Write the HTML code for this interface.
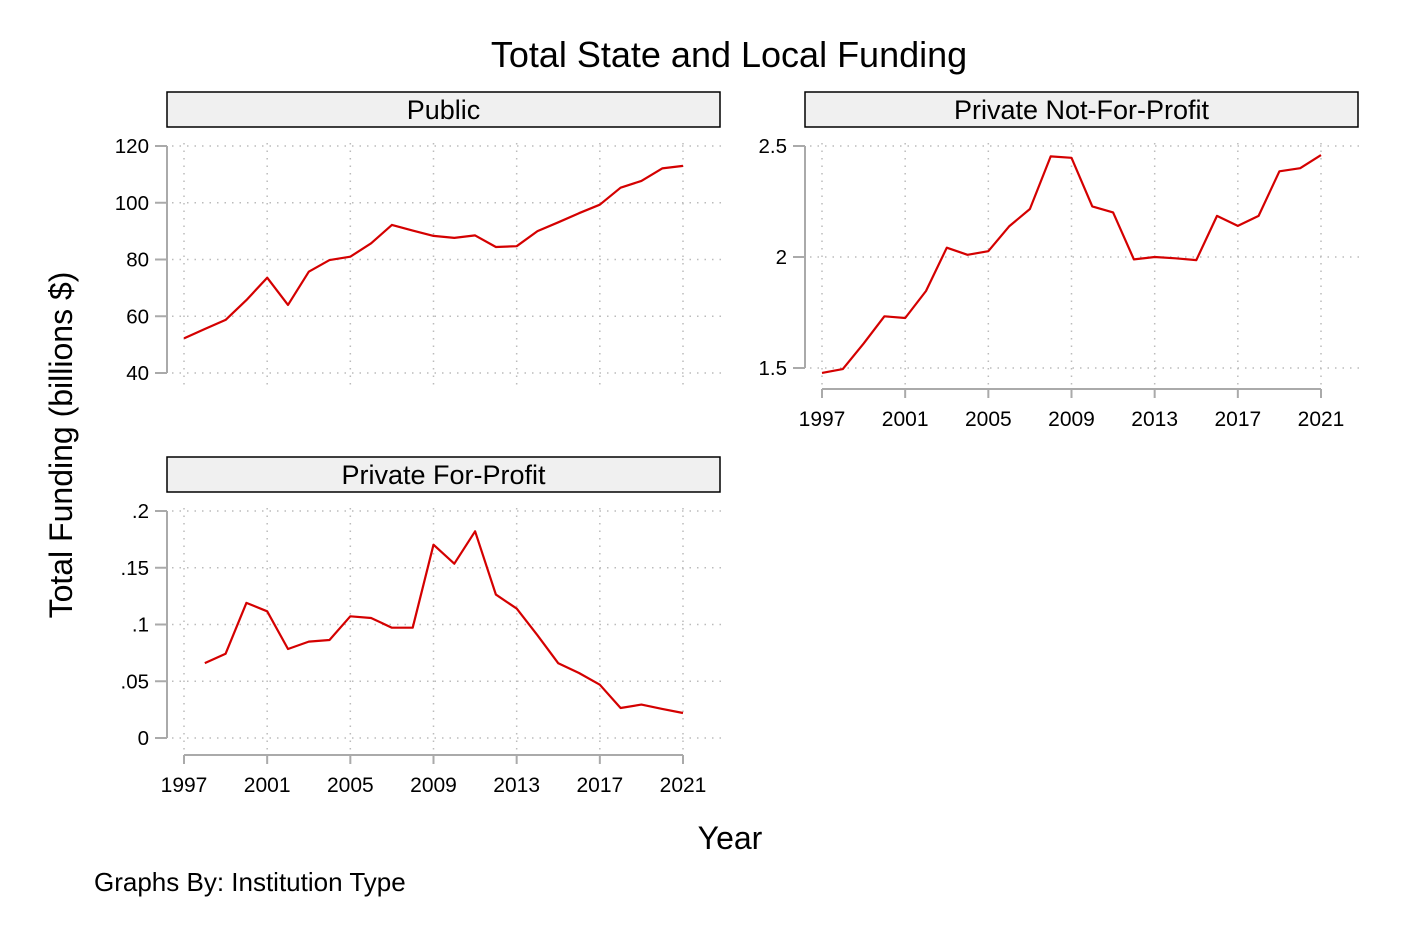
<!DOCTYPE html>
<html><head><meta charset="utf-8"><style>
body{margin:0;background:#fff;}
svg text{font-family:"Liberation Sans",Arial,sans-serif;fill:#000;}
</style></head><body>
<svg id="chart" width="1404" height="936" viewBox="0 0 1404 936" xmlns="http://www.w3.org/2000/svg">
<rect width="1404" height="936" fill="#fff"/>
<text x="729" y="67" font-size="36" text-anchor="middle">Total State and Local Funding</text>
<text transform="translate(72,445) rotate(-90)" font-size="32" text-anchor="middle">Total Funding (billions $)</text>
<text x="730" y="849" font-size="32" text-anchor="middle">Year</text>
<text x="94" y="891" font-size="26">Graphs By: Institution Type</text>
<g id="panels"></g>
</svg>
<script>
const years = [1997,1998,1999,2000,2001,2002,2003,2004,2005,2006,2007,2008,2009,2010,2011,2012,2013,2014,2015,2016,2017,2018,2019,2020,2021];
const publicValues = [52.2,55.5,58.7,65.7,73.6,64,75.7,79.8,81,85.7,92.2,90.2,88.3,87.6,88.5,84.4,84.7,90,93.1,96.3,99.3,105.3,107.7,112.1,113];
const nonprofitValues = [1.478,1.495,1.61,1.733,1.725,1.847,2.042,2.01,2.026,2.138,2.216,2.453,2.447,2.228,2.201,1.989,2.0,1.994,1.986,2.185,2.14,2.185,2.386,2.4,2.459];
const forprofitValues = [null,.066,.0743,.119,.1116,.0784,.0849,.0863,.1072,.1057,.0972,.0972,.1703,.1536,.1821,.1263,.114,.0905,.0658,.0573,.047,.0264,.0294,.0256,.022];
const xTicks = [1997,2001,2005,2009,2013,2017,2021];
const publicTicks = [40,60,80,100,120];
const publicTickLabels = ["40","60","80","100","120"];
const nonprofitTicks = [1.5,2,2.5];
const nonprofitTickLabels = ["1.5","2","2.5"];
const forprofitTicks = [0,.05,.1,.15,.2];
const forprofitTickLabels = ["0",".05",".1",".15",".2"];

const NS="http://www.w3.org/2000/svg";
const root=document.getElementById('panels');
function mk(tag,attrs,parent){const e=document.createElementNS(NS,tag);for(const k in attrs)e.setAttribute(k,attrs[k]);(parent||root).appendChild(e);return e;}

function panel(o){
  const g=mk('g',{});
  
  
  const xs=v=>o.x0+(v-1997)*(o.x1-o.x0)/24;
  const ys=v=>o.yTop+(o.tMax-v)*(o.yBot-o.yTop)/(o.tMax-o.tMin);
  const hr=mk('rect',{x:o.hx,y:o.hy,width:553,height:35,fill:'#f0f0f0',stroke:'#000','stroke-width':1.5},g);
  
  
  const ht=mk('text',{x:o.hx+276.5,y:o.hy+27,'font-size':27,'text-anchor':'middle'},g);
  ht.textContent=o.title;
  
  
  o.yt.forEach((t,i)=>{
    const y=ys(t);
    const gl=mk('line',{x1:o.yAxisX+5,x2:o.gridR,y1:y,y2:y,stroke:'#bbb','stroke-width':1.5,'stroke-dasharray':'1.5 6'},g);
    
    
    mk('line',{x1:o.yAxisX-12,x2:o.yAxisX,y1:y,y2:y,stroke:'#aaa','stroke-width':2},g);
    const tl=mk('text',{x:o.yAxisX-18,y:y+7,'font-size':20.5,'text-anchor':'end'},g);
    tl.textContent=o.ytl[i];
    
    
  });
  xTicks.forEach(t=>{
    const x=xs(t);
    const gl=mk('line',{x1:x,x2:x,y1:o.yTop-3,y2:o.gridB,stroke:'#bbb','stroke-width':1.5,'stroke-dasharray':'1.5 6'},g);
    
    
    if(o.xAxisY){
      mk('line',{x1:x,x2:x,y1:o.xAxisY,y2:o.xAxisY+9,stroke:'#aaa','stroke-width':2},g);
      const tl=mk('text',{x:x,y:o.xAxisY+37,'font-size':21,'text-anchor':'middle'},g);
      tl.textContent=String(t);
      
      
    }
  });
  const ya=mk('line',{x1:o.yAxisX,x2:o.yAxisX,y1:ys(o.tMax),y2:ys(o.tMin),stroke:'#aaa','stroke-width':2},g);
  
  
  if(o.xAxisY){
    const xa=mk('line',{x1:o.x0,x2:o.x1,y1:o.xAxisY,y2:o.xAxisY,stroke:'#aaa','stroke-width':2},g);
    
    
  }
  let d='';
  o.vals.forEach((v,i)=>{if(v==null)return;d+=(d?'L':'M')+xs(years[i]).toFixed(1)+','+ys(v).toFixed(1);});
  const p=mk('path',{d:d,fill:'none',stroke:'#d40000','stroke-width':2.2,'stroke-linejoin':'round'},g);
  
  
}
panel({name:'public-panel',title:'Public',hx:167,hy:92,x0:184,x1:683,yTop:146,yBot:373,tMin:40,tMax:120,yt:publicTicks,ytl:publicTickLabels,vals:publicValues,yAxisX:167,gridR:722,gridB:390,xAxisY:null});
panel({name:'private-nonprofit-panel',title:'Private Not-For-Profit',hx:805,hy:92,x0:822,x1:1321,yTop:146,yBot:368,tMin:1.5,tMax:2.5,yt:nonprofitTicks,ytl:nonprofitTickLabels,vals:nonprofitValues,yAxisX:805,gridR:1360,gridB:385,xAxisY:389});
panel({name:'private-forprofit-panel',title:'Private For-Profit',hx:167,hy:457,x0:184,x1:683,yTop:511,yBot:738,tMin:0,tMax:.2,yt:forprofitTicks,ytl:forprofitTickLabels,vals:forprofitValues,yAxisX:167,gridR:722,gridB:752,xAxisY:755});
</script>
</body></html>
